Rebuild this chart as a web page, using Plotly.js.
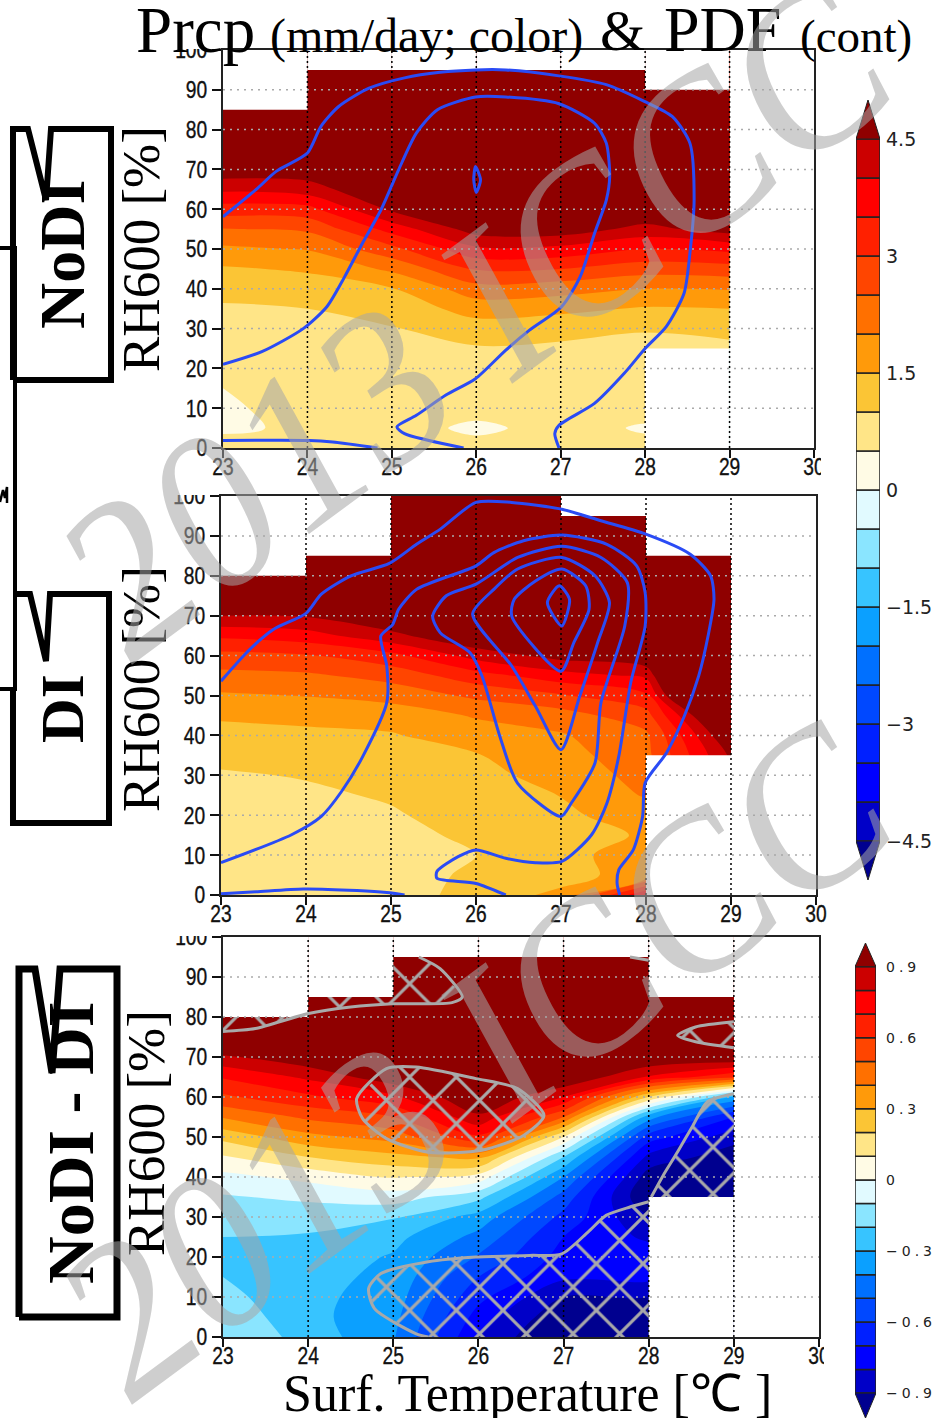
<!DOCTYPE html>
<html><head><meta charset="utf-8">
<script src="https://cdn.plot.ly/plotly-3.0.1.min.js"></script>
<style>html,body{margin:0;padding:0;background:#fff}#g{width:933px;height:1418px}
.y5tick text{letter-spacing:4px}
.xtick text,.ytick text,.x2tick text,.y2tick text,.x3tick text,.y3tick text{stroke:#111;stroke-width:.35px}</style></head><body><div id="g"></div>
<script>
// ---------- data ----------
const temps=[23,24,25,26,27,28,29];
const rhs=[0,5,10,15,20,25,30,35,40,45,50,55,60,65,70,75,80,85,90,95,100];
const colColors=['#00008f','#0000c8','#0000ff','#0020ff','#0048ff','#0070ff','#0ba0ff','#37c4ff','#8ae5ff','#e1faff','#fffbe5','#ffe587','#fbc535','#ff9a0a','#ff7000','#ff4500','#ff2000','#ff0000','#cc0000','#8f0000'];
const zNoDI=[
[.62,.60,.65,.60,.60,.58,.60],
[.45,.55,.62,.44,.60,.47,.60],
[.47,.57,.65,.60,.65,.60,.65],
[.50,.62,.70,.70,.72,.70,.72],
[.61,.72,.78,.80,.80,.80,.80],
[.72,.82,.87,.95,.90,.92,.92],
[.83,.90,.97,1.28,1.18,1.02,1.10],
[.94,1.0,1.20,1.70,1.62,1.45,1.50],
[1.15,1.27,1.47,2.30,2.20,2.00,2.03],
[1.44,1.56,2.10,3.05,3.00,2.72,2.80],
[1.90,2.03,2.85,3.90,3.85,3.50,3.63],
[2.48,2.58,3.70,4.75,4.80,4.33,4.75],
[3.27,3.33,4.60,5,5,5,5],
[4.10,4.27,5,5,5,5,5],
[4.85,4.80,5,5,5,5,5],
[5,5,5,5,5,5,5],[5,5,5,5,5,5,5],[5,5,5,5,5,5,5],[5,5,5,5,5,5,5],[5,5,5,5,5,5,5],[5,5,5,5,5,5,5]];
const zDI=[
[.65,.70,.80,1.15,1.65,4.0,4.5],
[.65,.70,.80,1.08,1.25,1.80,4.5],
[.68,.70,.80,1.00,1.25,1.90,4.5],
[.72,.75,.85,1.10,1.30,1.55,4.5],
[.78,.82,.95,1.20,1.40,1.75,4.5],
[.85,.92,1.05,1.30,1.51,2.05,4.5],
[.95,1.03,1.18,1.38,1.65,2.20,4.5],
[1.12,1.20,1.30,1.47,1.79,2.35,4.6],
[1.33,1.38,1.46,1.75,1.95,2.40,5.1],
[1.57,1.65,1.70,2.05,2.28,2.80,5.9],
[1.93,2.02,2.20,2.60,2.95,3.40,8],
[2.35,2.42,2.68,3.30,3.80,4.10,8.5],
[2.85,2.95,3.35,4.20,4.70,5,8],
[3.60,3.78,4.35,5,5,5,5],
[4.50,4.55,5,5,5,5,5],
[5,5,5,5,5,5,5],[5,5,5,5,5,5,5],[5,5,5,5,5,5,5],[5,5,5,5,5,5,5],[5,5,5,5,5,5,5],[5,5,5,5,5,5,5]];
const zDiff=[
[-.11,-.24,-.39,-.80,-1.03,-1.05,-1.05],
[-.13,-.27,-.37,-.74,-.98,-1.0,-1.05],
[-.17,-.27,-.35,-.67,-.90,-.90,-1.05],
[-.20,-.26,-.33,-.60,-.78,-.77,-1.05],
[-.23,-.24,-.31,-.51,-.74,-.75,-1.05],
[-.20,-.21,-.27,-.43,-.70,-.82,-1.05],
[-.16,-.16,-.19,-.34,-.63,-.90,-1.05],
[-.11,-.08,-.05,-.17,-.54,-1.0,-1.05],
[-.03,.03,.11,.06,-.40,-.95,-1.0],
[.09,.20,.27,.33,-.20,-.83,-.96],
[.23,.37,.44,.68,.10,-.65,-.86],
[.41,.52,.60,.88,.50,-.36,-.70],
[.58,.68,.78,1.0,.80,.20,-.32],
[.71,.82,.97,1.1,1.0,.79,.62],
[.88,.98,1.1,1.1,1.1,1.0,1.0],
[1.1,1.1,1.1,1.1,1.1,1.1,1.1],[1.1,1.1,1.1,1.1,1.1,1.1,1.1],[1.1,1.1,1.1,1.1,1.1,1.1,1.1],[1.1,1.1,1.1,1.1,1.1,1.1,1.1],[1.1,1.1,1.1,1.1,1.1,1.1,1.1],[1.1,1.1,1.1,1.1,1.1,1.1,1.1]];
const cellCentres=[23.5,24.5,25.5,26.5,27.5,28.5];
const topNoDI=[85,95,95,95,95,90], botNoDI=[0,0,0,0,0,25];
const topDI=[80,85,100,100,95,85], botDI=[0,0,0,0,0,35];
const topDiff=[80,85,95,95,95,85], botDiff=[0,0,0,0,0,35];
const xTicks=[23,24,25,26,27,28,29,30];
const yTicks=[0,10,20,30,40,50,60,70,80,90,100];
const levP=[-4.5,-4,-3.5,-3,-2.5,-2,-1.5,-1,-.5,0,.5,1,1.5,2,2.5,3,3.5,4,4.5];
const levD=[-.9,-.8,-.7,-.6,-.5,-.4,-.3,-.2,-.1,0,.1,.2,.3,.4,.5,.6,.7,.8,.9];
const pdfNoDI=[
{x:[23,23.39,23.63,24,24.16,24.37,24.73,25.15,25.57,25.99,26.35,26.98,27.54,27.99,28.32,28.53,28.58,28.53,28.46,28.25,28,27.75,27.4,26.98,26.93,26.98],
 y:[58.1,64.9,69.5,74.1,80.8,85.8,90.4,93,94.4,95,95,93.5,91.3,87.1,83.3,76.6,62.3,48.9,38.8,30.5,25,18.7,11.2,5.7,3.6,0]},
{x:[23,23.46,23.95,24.23,24.44,24.65,24.87,25.08,25.29,25.54,25.99,26.35,26.98,27.4,27.54,27.58,27.54,27.4,27.23,27.01,26.63,26.35,25.99,25.64,25.29,25.06,25.15,25.85],
 y:[21,24.2,30,35.5,43,51.4,59.8,69.9,79.1,85,88.2,88.2,86.5,81.6,76.6,68.2,62.3,53.9,43,35.5,29.6,24.6,17.4,13.3,8.2,5.3,3.6,0]},
{x:[25.99,26.05,26,25.97,25.99],y:[70.7,67.4,64.2,67.4,70.7]},
{x:[23,24.02,24.3,24.83],y:[1.9,1.9,1.5,0]}];
const pdfDI=[
{x:[23,23.34,23.62,24,24.18,24.53,24.98,25.3,25.58,26,26.42,27.01,27.47,27.99,28.52,28.76,28.8,28.73,28.62,28.45,28.24,27.99,27.96,27.85,27.68,27.66,27.69],
 y:[53.6,61.6,66.6,70.6,75.4,80,83.1,87.9,91.7,98.4,98.4,96.7,93.8,90.5,85.4,80,74.1,64.9,54.9,44.8,35.6,28.1,19.7,11.3,6.3,2.9,0]},
{x:[23,23.83,24.18,24.42,24.67,24.95,24.95,24.88,25.02,25.09,25.3,26,26.21,26.56,27.01,27.54,27.89,27.99,27.99,27.82,27.68,27.54,27.36,27.01,26.7,26.35,26,25.79,25.54,25.54,26,26.35],
 y:[8.1,15.1,19.7,26,34.8,48.2,57.4,64.9,67.8,71.6,76.6,82.5,85.8,88.8,90.2,87.9,82.5,75.8,67.4,53.2,34.8,23,15.1,8.4,8.1,9.2,11.3,9.6,5.9,4.2,2.9,0]},
{x:[27,26.49,26.28,26.07,25.93,25.58,25.49,25.65,26,26.49,27.01,27.47,27.78,27.75,27.47,27.4,27.12,27],
 y:[19.7,28,39.8,54.9,60.7,65.7,69.9,75,77.9,84.6,87.4,84.6,78.3,67.4,48.2,33.1,23,19.7]},
{x:[27,26.7,26.42,25.96,26.21,26.49,27.01,27.4,27.57,27.43,27.22,27],
 y:[36.4,47.3,57.4,70.4,76.6,81.7,84.6,80,73.3,63.2,49.8,36.4]},
{x:[27,26.42,26.45,26.7,27.01,27.29,27.33,27.15,27],y:[56.1,69.9,74.1,78.7,81.7,77.5,71.6,63.2,56.1]},
{x:[27.01,26.84,26.98,27.1,27.01],y:[67.4,73.3,77.5,74.1,67.4]},
{x:[23,23.41,23.97,24.6,24.95,25.16],y:[.3,.8,1.5,1.1,.6,0]}];
// hatched significance regions: fill polygon plus outline
const hatch=[
{fx:[23,23.38,23.99,24.5,24.99,25.69,25.81,25.55,25.3,25,25,24,24,23],
 fy:[76.4,77.1,80.8,82.5,83.3,83.6,85,92.1,95,95,85,85,80,80],
 lx:[23,23.38,23.99,24.5,24.99,25.69,25.81,25.55,25.3],ly:[76.4,77.1,80.8,82.5,83.3,83.6,85,92.1,95]},
{fx:[24.92,25.27,25.97,26.46,26.77,26.53,26.04,25.41,24.92,24.64,24.57,24.92],
 fy:[67.1,67.5,64.6,62.1,55.4,50.4,46.7,46.2,49.6,54.6,59.6,67.1],
 lx:[24.92,25.27,25.97,26.46,26.77,26.53,26.04,25.41,24.92,24.64,24.57,24.92],
 ly:[67.1,67.5,64.6,62.1,55.4,50.4,46.7,46.2,49.6,54.6,59.6,67.1]},
{fx:[29,28.55,28.34,28.55,29],fy:[78.8,77.5,75.4,73.8,72.3],lx:[29,28.55,28.34,28.55,29],ly:[78.8,77.5,75.4,73.8,72.3]},
{fx:[24.85,24.71,24.78,25.27,25.41,28,28,27.78,27.5,27.29,26.98,26.6,25.97,25.41,24.85],
 fy:[15.8,12.1,7.1,.8,0,0,33.8,32.5,30.4,26.3,20.8,20.4,20,18.8,15.8],
 lx:[28,27.78,27.5,27.29,26.98,26.6,25.97,25.41,24.85,24.71,24.78,25.27,25.41],
 ly:[33.8,32.5,30.4,26.3,20.8,20.4,20,18.8,15.8,12.1,7.1,.8,0]},
{fx:[29,28.69,28.52,28.34,28.17,28.03,29],fy:[60.8,58.8,52.9,46.3,40.4,35,35],
 lx:[29,28.69,28.52,28.34,28.17,28.03],ly:[60.8,58.8,52.9,46.3,40.4,35]},
{fx:[27.78,28,28],fy:[95,94.2,95],lx:[27.78,28],ly:[95,94.2]}];
// ---------- page geometry ----------
const W=933,H=1418;
const panels=[
 {L:223,R:814,T:50,B:448,z:zNoDI,top:topNoDI,bot:botNoDI,lev:levP},
 {L:221,R:816,T:496,B:895,z:zDI,top:topDI,bot:botDI,lev:levP},
 {L:223,R:819,T:937,B:1337,z:zDiff,top:topDiff,bot:botDiff,lev:levD}];
const bars=[{L:856,R:880,T:100,B:880,lev:levP,r:[-5,5],tv:[4.5,3,1.5,0,-1.5,-3,-4.5],tt:['4.5','3','1.5','0','\u22121.5','\u22123','\u22124.5'],fs:19,step:.5,off:5},
            {L:855,R:876,T:943,B:1420,lev:levD,r:[-1.005,1.0],tv:[.9,.6,.3,0,-.3,-.6,-.9],tt:['0.9','0.6','0.3','0','\u22120.3','\u22120.6','\u22120.9'],fs:14,step:.1,off:9}];
const tickFont={family:'"Liberation Sans",Arial,sans-serif',size:24,color:'#111'};
const layout={width:W,height:H,margin:{l:0,r:0,t:0,b:0},paper_bgcolor:'#fff',plot_bgcolor:'#fff',
 showlegend:false,hovermode:false,barmode:'overlay',shapes:[],annotations:[]};
const traces=[];
const colorscale=colColors.map((c,i)=>[i/19,c]);
panels.forEach((p,i)=>{
 const n=i+1, xa='x'+(n>1?n:''), ya='y'+(n>1?n:'');
 layout['xaxis'+(n>1?n:'')]={domain:[p.L/W,p.R/W],range:[23,30],anchor:ya,tickvals:xTicks,ticktext:xTicks.map(String),ticks:'outside',ticklen:8,tickwidth:2,tickcolor:'#111',showgrid:false,zeroline:false,showline:true,linewidth:2,linecolor:'#222',mirror:true,tickfont:tickFont,tickangle:0,ticklabelstandoff:-12};
 layout['yaxis'+(n>1?n:'')]={domain:[1-p.B/H,1-p.T/H],range:[0,100],anchor:xa,tickvals:yTicks,ticktext:yTicks.map(String),ticks:'outside',ticklen:9,tickwidth:2,tickcolor:'#111',showgrid:false,zeroline:false,showline:true,linewidth:2,linecolor:'#222',mirror:true,tickfont:tickFont};
 const lv=p.lev;
 traces.push({type:'contour',x:temps,y:rhs,z:p.z,xaxis:xa,yaxis:ya,showscale:false,colorscale,
   zauto:false,zmin:lv[0]-(lv[1]-lv[0])/2,zmax:lv[18]+(lv[1]-lv[0])/2,autocontour:false,
   contours:{start:lv[0],end:lv[18],size:lv[1]-lv[0],coloring:'fill',showlines:false},line:{width:0}});
 traces.push({type:'bar',x:cellCentres,base:p.top,y:p.top.map(t=>100-t),width:1,xaxis:xa,yaxis:ya,marker:{color:'#fff',line:{width:0}}});
 traces.push({type:'bar',x:cellCentres,base:p.bot.map(()=>0),y:p.bot,width:1,xaxis:xa,yaxis:ya,marker:{color:'#fff',line:{width:0}}});
 const hx=[],hy=[];yTicks.slice(1,-1).forEach(v=>{hx.push(23,30,null);hy.push(v,v,null);});
 traces.push({type:'scatter',mode:'lines',x:hx,y:hy,xaxis:xa,yaxis:ya,line:{color:'#aaaaaa',width:1.5,dash:'2px,5px'}});
 const vx=[],vy=[];xTicks.slice(1,-1).forEach(v=>{vx.push(v,v,null);vy.push(0,100,null);});
 traces.push({type:'scatter',mode:'lines',x:vx,y:vy,xaxis:xa,yaxis:ya,line:{color:'#000',width:1.5,dash:'2px,3px'}});
});
[pdfNoDI,pdfDI].forEach((set,i)=>{const n=i+1;set.forEach(l=>traces.push({type:'scatter',mode:'lines',x:l.x,y:l.y,xaxis:'x'+(n>1?n:''),yaxis:'y'+(n>1?n:''),line:{color:'#2a4bf5',width:3,shape:'spline',smoothing:.7}}));});
hatch.forEach(h=>{
 traces.push({type:'scatter',mode:'none',x:h.fx,y:h.fy,xaxis:'x3',yaxis:'y3',fill:'toself',fillcolor:'rgba(0,0,0,0)',
   fillpattern:{shape:'x',fgcolor:'#a9a9a9',bgcolor:'rgba(0,0,0,0)',size:33,solidity:.18,fillmode:'replace'}});
 traces.push({type:'scatter',mode:'lines',x:h.lx,y:h.ly,xaxis:'x3',yaxis:'y3',line:{color:'#a9a9a9',width:3,shape:'spline',smoothing:.7}});
});
bars.forEach((b,i)=>{
 const n=i+4,xa='x'+n,ya='y'+n;
 layout['xaxis'+n]={domain:[b.L/W,b.R/W],range:[0,1],anchor:ya,showticklabels:false,ticks:'',showgrid:false,zeroline:false,showline:false};
 layout['yaxis'+n]={domain:[1-b.B/H,1-b.T/H],range:b.r,anchor:xa,side:'right',tickvals:b.tv,ticktext:b.tt,ticks:'',ticklen:0,showgrid:false,zeroline:false,showline:false,ticklabelstandoff:b.off,
   tickfont:{family:'"DejaVu Sans",sans-serif',size:b.fs,color:'#222'}};
 const lv=b.lev, mids=lv.slice(0,-1).map(()=>.5);
 traces.push({type:'bar',x:mids,base:lv.slice(0,-1),y:lv.slice(0,-1).map(()=>b.step),width:1,xaxis:xa,yaxis:ya,marker:{color:colColors.slice(1,-1),line:{color:'#222',width:1.5}}});
 const tip=b.r[1], low=b.r[0];
 traces.push({type:'scatter',mode:'lines',x:[0,.5,1,0],y:[lv[18],tip,lv[18],lv[18]],xaxis:xa,yaxis:ya,fill:'toself',fillcolor:colColors[19],line:{color:'#222',width:1},cliponaxis:false});
 traces.push({type:'scatter',mode:'lines',x:[0,.5,1,0],y:[lv[0],low,lv[0],lv[0]],xaxis:xa,yaxis:ya,fill:'toself',fillcolor:colColors[0],line:{color:'#222',width:1},cliponaxis:false});
});
const px=x=>x/W, py=y=>1-y/H;
const pathOf=pts=>pts.map((p,i)=>(i?'L':'M')+px(p[0]).toFixed(5)+','+py(p[1]).toFixed(5)).join(' ');
function stroke(pts,w){layout.shapes.push({type:'path',xref:'paper',yref:'paper',path:pathOf(pts),line:{color:'#000',width:w},layer:'above'});}
function cover(x0,y0,x1,y1){layout.shapes.push({type:'rect',xref:'paper',yref:'paper',x0:px(x0),x1:px(x1),y0:py(y1),y1:py(y0),fillcolor:'#fff',line:{width:0},layer:'above'});}
cover(170,28,218,49);cover(170,478,218,495);cover(170,926,218,936);
cover(821,452,846,480);cover(824,1340,846,1368);
stroke([[13,380],[13,129],[28,129],[46,200],[51,129],[111,129],[111,380],[13,380]],6);
stroke([[0,248],[15,248],[15,689],[0,689]],4);
stroke([[15,594],[30,594],[46,661],[50,594],[109,594],[109,823],[13,823],[13,689]],6);
stroke([[19,1317],[19,969],[35,969],[52,1073],[60,969],[117,969],[117,1317],[19,1317]],7);
stroke([[0,502],[3,490],[5,498],[7,487],[7,503]],2.5);
const serif='"Liberation Serif","Times New Roman",serif';
function note(t,x,y,size,o={}){layout.annotations.push(Object.assign({xref:'paper',yref:'paper',x:px(x),y:py(y),text:t,showarrow:false,xanchor:'center',yanchor:'middle',font:{family:serif,size,color:'#000'},align:'center'},o));}
note('Prcp',195,30,65);
note('(mm/day; color)',426,36,48);
note('&',622,31,58);
note('PDF',722,30,64);
note('(cont)',856,36,47);
[[141,249],[141,689],[146,1133]].forEach(c=>note('RH600 [%]',c[0],c[1],53,{textangle:-90}));
note('<b>NoDI</b>',62,255,64,{textangle:-90});
note('<b>DI</b>',62,709,62,{textangle:-90});
note('<b>NoDI - DI</b>',70,1143,66,{textangle:-90});
note('Surf. Temperature [\u2103 ]',527,1393,52);
const wm=[[476,317],[476,1057]];
wm.forEach(c=>note('2013 ICCC',c[0],c[1],201,{font:{family:serif,size:201,color:'rgba(165,165,165,0.55)'}}));
Plotly.newPlot('g',traces,layout,{displayModeBar:false,staticPlot:true}).then(()=>{
 const all=[...document.querySelectorAll('g.annotation')];
 wm.forEach((c,i)=>{const el=all[all.length-wm.length+i];
  el.setAttribute('transform',`translate(${c[0]} ${c[1]}) scale(1 1.16) rotate(-32.5) translate(${-c[0]} ${-c[1]})`);});
 // narrow the axis digits as in the reference
 const squeeze=(sel,edge)=>document.querySelectorAll(sel).forEach(t=>{
   const r=t.getBoundingClientRect(), cx=edge==='right'?r.right:(r.left+r.right)/2, old=t.getAttribute('transform')||'';
   t.setAttribute('transform',`translate(${cx} 0) scale(.8 1) translate(${-cx} 0) ${old}`);});
 squeeze('.xtick text,.x2tick text,.x3tick text','c');
 squeeze('.ytick text,.y2tick text,.y3tick text','right');
});
</script></body></html>
